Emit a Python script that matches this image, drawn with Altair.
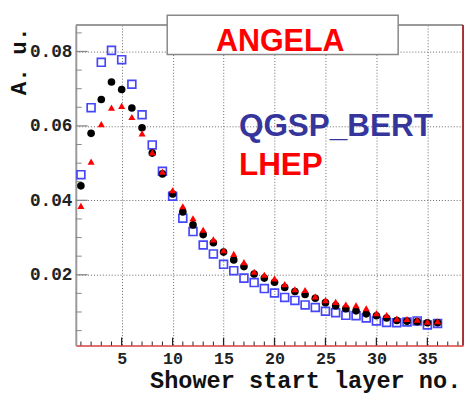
import altair as alt
import pandas as pd

# ---- data ----
layers = [1, 2, 3, 4, 5, 6, 7, 8, 9, 10, 11, 12, 13, 14, 15, 16, 17, 18,
          19, 20, 21, 22, 23, 24, 25, 26, 27, 28, 29, 30, 31, 32, 33, 34, 35, 36]

qgsp_bert = [0.0469, 0.0649, 0.0771, 0.0803, 0.0778, 0.0712, 0.0630, 0.0549, 0.0478,
             0.0411, 0.0352, 0.0316, 0.0280, 0.0256, 0.0228, 0.0211, 0.0191, 0.0179,
             0.0163, 0.0151, 0.0139, 0.0131, 0.0119, 0.0112, 0.0102, 0.0098, 0.0091,
             0.0090, 0.0084, 0.0076, 0.0072, 0.0071, 0.0073, 0.0076, 0.0065, 0.0069]

data_pts = [0.0439, 0.0580, 0.0671, 0.0718, 0.0698, 0.0648, 0.0595, 0.0527, 0.0471,
            0.0417, 0.0369, 0.0334, 0.0308, 0.0286, 0.0261, 0.0240, 0.0222, 0.0202,
            0.0191, 0.0180, 0.0166, 0.0155, 0.0147, 0.0137, 0.0125, 0.0117, 0.0109,
            0.0103, 0.0095, 0.0090, 0.0084, 0.0077, 0.0075, 0.0074, 0.0071, 0.0071]

lhep = [0.0385, 0.0504, 0.0605, 0.0649, 0.0654, 0.0624, 0.0580, 0.0529, 0.0477,
        0.0427, 0.0384, 0.0352, 0.0321, 0.0295, 0.0266, 0.0256, 0.0234, 0.0208,
        0.0200, 0.0190, 0.0175, 0.0161, 0.0159, 0.0142, 0.0132, 0.0127, 0.0120,
        0.0118, 0.0110, 0.0097, 0.0092, 0.0082, 0.0081, 0.0079, 0.0074, 0.0075]

x_major = [5, 10, 15, 20, 25, 30, 35]
x_minor = [1, 2, 3, 4, 6, 7, 8, 9, 11, 12, 13, 14, 16, 17, 18, 19, 21, 22, 23, 24,
           26, 27, 28, 29, 31, 32, 33, 34, 36, 37, 38]
y_major = [0.02, 0.04, 0.06, 0.08]
y_minor = [0.005, 0.01, 0.015, 0.025, 0.03, 0.035, 0.045, 0.05, 0.055,
           0.065, 0.07, 0.075, 0.085]

labels = ["ANGELA", "QGSP_BERT", "LHEP"]
x_title = "Shower start layer no."
y_title = "A. u."

# ---- geometry / style ----
W, H = 394, 326

xs = alt.Scale(domain=[0.5, 38.5], nice=False, zero=False)
ys = alt.Scale(domain=[0.001, 0.0871], nice=False, zero=False)

x_axis = alt.Axis(values=x_major, format="d", grid=True, gridColor="#666",
                  gridDash=[1, 2], gridWidth=1, ticks=False,
                  domainColor="#d84040", domainWidth=1.5,
                  labelFont="Liberation Mono", labelFontSize=17, labelFontWeight="bold",
                  labelColor="#222", labelPadding=5, labelFlush=False, labelOverlap=False,
                  title=x_title, titleFont="Liberation Mono", titleFontSize=24,
                  titleFontWeight="bold", titleColor="#111", titleX=75, titleY=43,
                  titleAlign="left", titleBaseline="alphabetic")
y_axis = alt.Axis(values=y_major, format=".2f", grid=True, gridColor="#666",
                  gridDash=[1, 2], gridWidth=1, ticks=False,
                  domainColor="#999", domainWidth=2,
                  labelFont="Liberation Mono", labelFontSize=18, labelFontWeight="bold",
                  labelColor="#222", labelPadding=4, labelFlush=False, labelOverlap=False,
                  title=y_title, titleFont="Liberation Mono", titleFontSize=23,
                  titleFontWeight="bold", titleColor="#111", titleX=-51, titleY=71,
                  titleAngle=270, titleAlign="left", titleBaseline="alphabetic")

X = alt.X("x:Q", scale=xs, axis=x_axis)
Y = alt.Y("y:Q", scale=ys, axis=y_axis)

rows = []
for i, l in enumerate(layers):
    rows.append({"x": l, "y": qgsp_bert[i], "s": "QGSP_BERT"})
    rows.append({"x": l, "y": data_pts[i], "s": "Data"})
    rows.append({"x": l, "y": lhep[i], "s": "LHEP"})
df = pd.DataFrame(rows)

base = alt.Chart(df)
blue = base.transform_filter(alt.datum.s == "QGSP_BERT").mark_point(
    shape="square", filled=False, color="#4646f8", strokeWidth=1.7, size=64, opacity=1
).encode(x=X, y=Y)
black = base.transform_filter(alt.datum.s == "Data").mark_point(
    shape="circle", filled=True, color="#000000", size=60, opacity=1
).encode(x=X, y=Y)
red = base.transform_filter(alt.datum.s == "LHEP").mark_point(
    shape="triangle-up", filled=True, color="#ff0000", size=52, opacity=1
).encode(x=X, y=Y)

# inside ticks (ROOT style)
xmaj = alt.Chart(pd.DataFrame({"x": x_major})).mark_rule(color="#222", strokeWidth=1.3).encode(
    x=X, y=alt.value(H), y2=alt.value(H - 8))
xmin = alt.Chart(pd.DataFrame({"x": x_minor})).mark_rule(color="#222", strokeWidth=1).encode(
    x=X, y=alt.value(H), y2=alt.value(H - 4))
ymaj = alt.Chart(pd.DataFrame({"y": y_major})).mark_rule(color="#888", strokeWidth=1.3).encode(
    y=Y, x=alt.value(0), x2=alt.value(12))
ymin = alt.Chart(pd.DataFrame({"y": y_minor})).mark_rule(color="#888", strokeWidth=1).encode(
    y=Y, x=alt.value(0), x2=alt.value(6))

one = pd.DataFrame({"a": [0]})
top_border = alt.Chart(one).mark_rule(color="#999", strokeWidth=2).encode(
    x=alt.value(0), x2=alt.value(W), y=alt.value(0))
right_border = alt.Chart(one).mark_rule(color="#a83030", strokeWidth=2).encode(
    x=alt.value(W), y=alt.value(0), y2=alt.value(H))

box = alt.Chart(one).mark_rect(fill="white", stroke="#888", strokeWidth=1.5).encode(
    x=alt.value(93), x2=alt.value(328), y=alt.value(-10), y2=alt.value(30))

txt = pd.DataFrame({"t": labels})
angela = alt.Chart(txt).transform_filter(alt.datum.t == labels[0]).mark_text(
    font="Liberation Sans", fontWeight="bold", fontSize=31, color="#ff0000",
    align="center", baseline="alphabetic").encode(
    text="t:N", x=alt.value(208), y=alt.value(26))
qgsp = alt.Chart(txt).transform_filter(alt.datum.t == labels[1]).mark_text(
    font="Liberation Sans", fontWeight="bold", fontSize=32, color="#35359c",
    align="left", baseline="alphabetic").encode(
    text="t:N", x=alt.value(166), y=alt.value(113))
lhep_t = alt.Chart(txt).transform_filter(alt.datum.t == labels[2]).mark_text(
    font="Liberation Sans", fontWeight="bold", fontSize=32, color="#ff0000",
    align="left", baseline="alphabetic").encode(
    text="t:N", x=alt.value(166), y=alt.value(153))

chart = alt.layer(
    xmin, xmaj, ymin, ymaj, top_border, right_border,
    blue, black, red, box, angela, qgsp, lhep_t
).properties(
    width=W, height=H,
    autosize=alt.AutoSizeParams(type="none"),
    padding={"left": 69, "top": 14, "right": 2, "bottom": 46},
    background="white",
).configure_view(stroke=None)

chart.save("out.html", embed_options={"renderer": "svg", "actions": False})
